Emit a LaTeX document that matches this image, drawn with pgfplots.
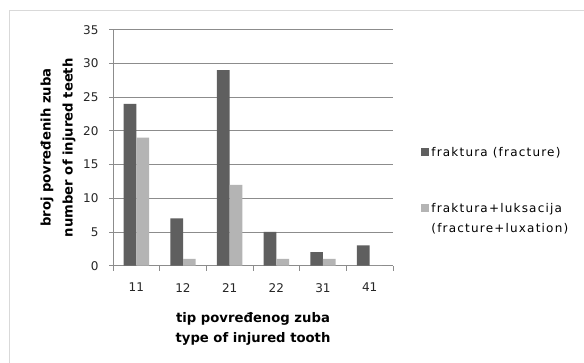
\documentclass[border=0pt]{standalone}
\usepackage{pgfplots}
\pgfplotsset{compat=1.18}
\usepackage{fontspec}
\setmainfont{DejaVu Sans}
\newfontfamily\legendfont[LetterSpace=10]{DejaVu Sans}
\definecolor{darkbar}{HTML}{5F5F5F}
\definecolor{lightbar}{HTML}{B4B4B4}
\definecolor{gridgray}{HTML}{8C8C8C}
\definecolor{framegray}{HTML}{D9D9D9}
\newcommand\twolines[2]{{\renewcommand\arraystretch{1.45}\begin{tabular}[t]{@{}l@{}}#1\\#2\end{tabular}}}
\begin{document}
\begin{tikzpicture}
\useasboundingbox (0pt,0pt) rectangle (584pt,363pt);
\fill[white] (0pt,0pt) rectangle (584pt,363pt);
% chart area frame
\draw[framegray, line width=0.8pt] (9.5pt,-5pt) -- (9.5pt,352.5pt) -- (600pt,352.5pt);
\begin{axis}[
  at={(113pt,97.3pt)}, anchor=south west,
  scale only axis, width=280pt, height=236pt,
  ybar, bar width=12.7pt,
  xmin=-0.5, xmax=5.5, ymin=0, ymax=35,
  ytick={0,5,...,35},
  xtick={0,...,5},
  xticklabels={11,12,21,22,31,41},
  minor xtick={-0.5,0.5,...,5.5},
  axis x line=bottom, axis y line=left,
  axis line style={-, gridgray, line width=0.8pt},
  ymajorgrids, major grid style={gridgray, line width=0.8pt},
  major x tick style={draw=none},
  minor x tick style={gridgray, line width=0.8pt},
  major y tick style={gridgray, line width=0.8pt},
  tick align=outside, major tick length=4pt, minor tick length=5pt,
  tick label style={font=\fontsize{12}{14}\selectfont, text=black!85},
  /pgf/number format/assume math mode=true,
  xticklabel style={yshift=-10pt},
  yticklabel style={xshift=-7pt},
  xlabel={tip povređenog zuba\\type of injured tooth},
  ylabel={broj povređenih zuba\\number of injured teeth},
  xlabel style={align=center, font=\bfseries\fontsize{13.2}{20}\selectfont, at={(axis description cs:0.5,0)}, anchor=north, yshift=-43pt},
  ylabel style={align=center, font=\bfseries\fontsize{13.2}{22}\selectfont, at={(axis description cs:0,0.5)}, anchor=south, yshift=34pt},
  legend image code/.code={\fill[#1] (0pt,0pt) rectangle (8pt,8pt);},
  legend style={at={(rel axis cs:1.09,0.52)}, anchor=north west, draw=none, fill=none,
    font=\legendfont\fontsize{12}{14}\selectfont, row sep=36pt,
    cells={anchor=base west}},
]
\addplot[fill=darkbar, draw=none, bar shift=-6.35pt] coordinates {(0,24) (1,7) (2,29) (3,5) (4,2) (5,3)};
\addlegendentry{fraktura (fracture)}
\addplot[fill=lightbar, draw=none, bar shift=6.35pt] coordinates {(0,19) (1,1) (2,12) (3,1) (4,1) (5,0)};
\addlegendentry{\twolines{fraktura+luksacija}{(fracture+luxation)}}
\end{axis}
\end{tikzpicture}
\end{document}
